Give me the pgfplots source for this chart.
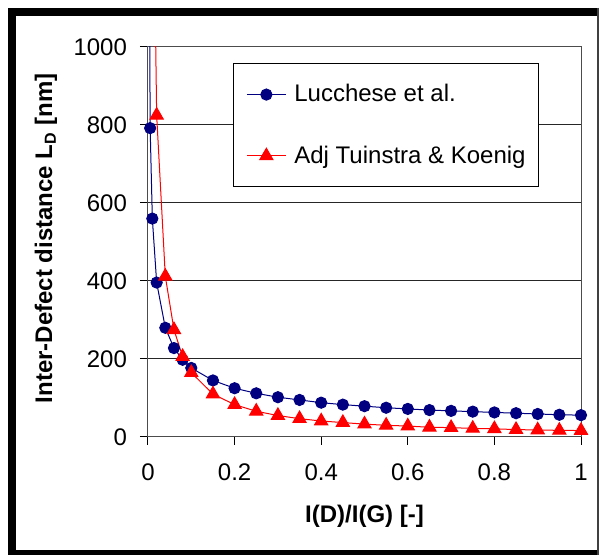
\documentclass[border=0pt]{standalone}
\usepackage{fontspec}
\setmainfont{Liberation Sans}
\usepackage{pgfplots}
\pgfplotsset{compat=1.18}
\definecolor{lucblue}{HTML}{000080}
\definecolor{tkred}{HTML}{FF0000}
\begin{document}
\begin{tikzpicture}
\path[use as bounding box] (-74pt,-59pt) rectangle (226pt,218.5pt);
\begin{axis}[at={(0pt,0pt)},anchor=south west,
  scale only axis,width=216.5pt,height=195pt,
  xmin=0,xmax=1,ymin=0,ymax=1000,
  xtick={0,0.2,0.4,0.6,0.8,1},ytick={0,200,400,600,800,1000},
  /pgf/number format/1000 sep={},
  /pgf/number format/assume math mode=true,
  ymajorgrids,grid style={black!85,line width=0.5pt},
  axis line style={black!70,line width=0.5pt},
  tick style={black,line width=0.5pt},
  tick align=outside,major tick length=4pt,
  xtick pos=bottom,ytick pos=left,
  ticklabel style={font=\fontsize{12}{14}\selectfont},
  xticklabel style={yshift=-6pt},yticklabel style={xshift=-3pt},
  xlabel={I(D)/I(G) [-]},
  ylabel={Inter-Defect distance L\textsubscript{D} [nm]},
  label style={font=\bfseries\fontsize{12}{14}\selectfont},
  xlabel style={at={(axis description cs:0.5,-0.2026)},anchor=center},
  ylabel style={at={(axis description cs:-0.2356,0.51)},anchor=center},
  legend cell align=left,
  legend image code/.code={\draw[mark repeat=2,mark phase=2] plot coordinates {(0pt,0pt) (9.75pt,0pt) (19.5pt,0pt)};},
  legend style={at={(0.196,0.959)},anchor=north west,draw=black,line width=0.5pt,fill=white,
    font=\fontsize{12}{14}\selectfont,inner xsep=6.5pt,inner ysep=10.45pt,
    row sep=20.45pt,column sep=4pt,nodes={inner sep=0pt,text depth=0.15em}}]
% segments that leave the plot area at the top
\addplot[lucblue,line width=0.5pt,forget plot] coordinates {(0.001,1770) (0.005,792)};
\addplot[tkred,line width=0.5pt,forget plot] coordinates {(0.01,1650) (0.02,825)};
\addplot[lucblue,line width=0.5pt,mark=*,mark size=2.8pt,mark options={fill=lucblue,draw=lucblue}] coordinates {
 (0.005,792) (0.01,560) (0.02,396) (0.04,280) (0.06,228) (0.08,198) (0.1,177)
 (0.15,145) (0.2,125) (0.25,112) (0.3,102) (0.35,95) (0.4,88) (0.45,83)
 (0.5,79) (0.55,75) (0.6,72) (0.65,69) (0.7,67) (0.75,65) (0.8,63)
 (0.85,61) (0.9,59) (0.95,57) (1,56)};
\addlegendentry{Lucchese et al.}
\addplot[tkred,line width=0.5pt,mark=triangle*,mark size=3.8pt,mark options={fill=tkred,draw=tkred}] coordinates {
 (0.02,825) (0.04,412) (0.06,275) (0.08,206) (0.1,165) (0.15,110) (0.2,83)
 (0.25,66) (0.3,55) (0.35,47) (0.4,41) (0.45,37) (0.5,33) (0.55,30)
 (0.6,28) (0.65,25) (0.7,24) (0.75,22) (0.8,21) (0.85,19) (0.9,18)
 (0.95,17) (1,16.5)};
\addlegendentry{Adj Tuinstra \& Koenig}
\end{axis}
% outer frame
\fill[black] (-70pt,-59pt) rectangle (-66pt,214.5pt);
\fill[black] (-70pt,210.5pt) rectangle (224.5pt,214.5pt);
\fill[black] (-70pt,-59pt) rectangle (225pt,-56.5pt);
\draw[black!75,line width=0.75pt] (225pt,214.5pt) -- (225pt,-59pt);
\end{tikzpicture}
\end{document}
